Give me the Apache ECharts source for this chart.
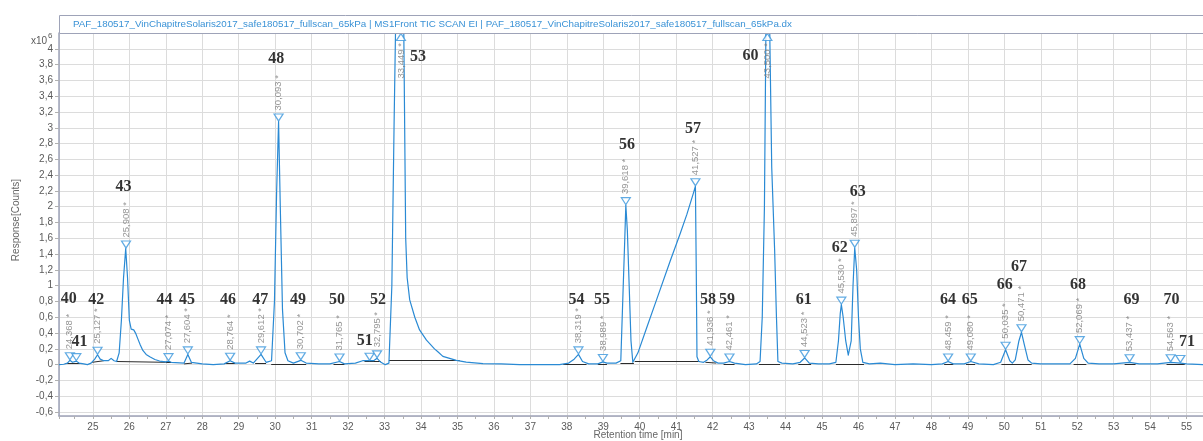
<!DOCTYPE html>
<html><head><meta charset="utf-8">
<script src="https://cdn.jsdelivr.net/npm/echarts@6/dist/echarts.min.js"></script>
<style>html,body{margin:0;padding:0;background:#fff}#c{width:1203px;height:441px}</style>
</head><body><div id="c"></div>
<script>
// ---- Chromatogram trace (retention time in min, response in 10^6 counts) ----
const retentionTimes = [24.07,24.2,24.3,24.368,24.44,24.545,24.62,24.75,24.85,24.95,25.05,25.127,25.2,25.3,25.42,25.5,25.58,25.65,25.72,25.78,25.84,25.9,25.95,26.0,26.05,26.12,26.17,26.23,26.3,26.37,26.46,26.56,26.7,26.83,27.0,27.074,27.15,27.5,27.604,27.7,28.0,28.3,28.6,28.764,28.9,29.2,29.3,29.4,29.612,29.75,29.9,29.98,30.04,30.093,30.14,30.2,30.27,30.35,30.5,30.702,30.85,31.2,31.5,31.765,31.9,32.2,32.4,32.59,32.7,32.795,32.9,33.02,33.12,33.2,33.26,33.32,33.449,33.52,33.56,33.58,33.62,33.69,33.83,33.96,34.15,34.37,34.42,34.47,34.6,34.97,35.24,35.7,36.2,36.7,37.3,37.8,38.05,38.2,38.319,38.43,38.6,38.85,38.989,39.1,39.35,39.48,39.54,39.59,39.618,39.66,39.71,39.76,39.81,39.86,39.95,40.2,40.46,40.84,41.11,41.29,41.47,41.527,41.55,41.57,41.62,41.75,41.85,41.936,42.02,42.15,42.3,42.461,42.6,42.9,43.2,43.3,43.36,43.42,43.46,43.5,43.56,43.62,43.7,43.75,43.79,43.9,44.2,44.4,44.523,44.65,44.9,45.2,45.38,45.45,45.5,45.53,45.58,45.65,45.72,45.76,45.8,45.85,45.897,45.95,46.0,46.05,46.12,46.3,46.6,47.0,47.5,48.0,48.3,48.459,48.6,48.9,49.08,49.3,49.7,49.9,50.035,50.15,50.22,50.3,50.4,50.471,50.55,50.65,50.75,51.0,51.5,51.8,51.95,52.069,52.18,52.3,52.6,53.0,53.437,53.7,54.2,54.563,54.83,55.0,55.45];
const responses = [0,0.005,0.02,0.055,0.03,0.045,0.02,0.01,0.0,0.02,0.07,0.125,0.07,0.05,0.05,0.08,0.05,0.04,0.15,0.55,1.1,1.47,1.1,0.56,0.45,0.44,0.4,0.33,0.25,0.18,0.13,0.1,0.065,0.046,0.035,0.045,0.03,0.02,0.13,0.03,0.01,0.0,0.01,0.05,0.02,0.02,0.045,0.02,0.13,0.03,0.05,0.8,2.2,3.08,2.0,0.7,0.15,0.05,0.02,0.055,0.02,0.01,0.01,0.04,0.01,0.02,0.05,0.05,0.05,0.08,0.03,0.0,0.02,1.0,3.0,4.8,5.6,4.6,2.6,1.6,1.1,0.82,0.6,0.44,0.31,0.2,0.19,0.16,0.105,0.055,0.033,0.013,0.01,0.0,0.0,0.0,0.02,0.07,0.13,0.04,0.01,0.01,0.035,0.02,0.02,0.05,0.9,1.6,2.02,1.7,1.0,0.3,0.03,0.03,0.15,0.48,0.82,1.32,1.66,1.9,2.17,2.26,1.2,0.1,0.04,0.03,0.06,0.1,0.05,0.02,0.02,0.04,0.02,0.0,0.01,0.04,0.6,2.0,4.2,5.5,4.4,2.5,1.45,0.6,0.04,0.02,0.01,0.03,0.085,0.02,0.01,0.01,0.03,0.3,0.65,0.76,0.6,0.3,0.12,0.1,0.3,1.0,1.48,1.2,0.6,0.2,0.03,0.01,0.02,0.0,0.01,0.0,0.01,0.04,0.01,0.01,0.04,0.01,0.0,0.03,0.19,0.05,0.02,0.06,0.3,0.41,0.25,0.06,0.02,0.01,0.01,0.01,0.08,0.26,0.08,0.02,0.01,0.01,0.03,0.01,0.01,0.03,0.02,0.01,0.0];

// ---- Integration baselines [t, v] start and end points ----
const baselineStart = [[24.25,0.02],[24.98,0.03],[25.65,0.04],[27.0,0.03],[27.5,0.01],[28.6,0.02],[29.45,0.02],[29.89,0.01],[30.55,0.01],[31.6,0.01],[32.45,0.04],[33.12,0.055],[37.9,0.01],[38.85,0.01],[39.47,0.02],[39.86,0.04],[41.8,0.03],[42.3,0.01],[43.27,0.0],[44.35,0.01],[45.38,0.0],[48.35,0.0],[48.95,0.0],[49.92,0.0],[51.9,0.0],[53.3,0.0],[54.45,0.0]];
const baselineEnd   = [[24.65,0.02],[25.3,0.05],[27.0,0.03],[27.15,0.03],[27.72,0.02],[28.9,0.02],[29.75,0.02],[30.58,0.01],[30.85,0.01],[31.9,0.01],[32.9,0.04],[35.06,0.055],[38.54,0.01],[39.1,0.01],[39.84,0.02],[41.65,0.04],[42.1,0.02],[42.6,0.01],[43.85,0.0],[44.7,0.01],[46.15,0.0],[48.6,0.0],[49.2,0.0],[50.75,0.0],[52.25,0.0],[53.6,0.0],[54.95,0.0]];

// ---- Peaks ----
const peakIds     = ['40','41','42','43','44','45','46','47','48','49','50','51','52','53','54','55','56','57','58','59','60','61','62','63','64','65','66','67','68','69','70','71'];
const peakTimes   = [24.368,24.545,25.127,25.908,27.074,27.604,28.764,29.612,30.093,30.702,31.765,32.59,32.795,33.449,38.319,38.989,39.618,41.527,41.936,42.461,43.500,44.523,45.530,45.897,48.459,49.080,50.035,50.471,52.069,53.437,54.563,54.83];
const peakHeights = [0.055,0.045,0.125,1.47,0.045,0.13,0.05,0.13,3.08,0.055,0.04,0.05,0.08,null,0.13,0.035,2.02,2.26,0.1,0.04,null,0.085,0.76,1.48,0.04,0.04,0.19,0.41,0.26,0.03,0.03,0.02];
const peakRtText  = ['24,368 *','','25,127 *','25,908 *','27,074 *','27,604 *','28,764 *','29,612 *','30,093 *','30,702 *','31,765 *','','32,795 *','33,449 *','38,319 *','38,989 *','39,618 *','41,527 *','41,936 *','42,461 *','43,500 *','44,523 *','45,530 *','45,897 *','48,459 *','49,080 *','50,035 *','50,471 *','52,069 *','53,437 *','54,563 *',''];
const peakLabelT  = [24.337,24.635,25.093,25.842,26.967,27.579,28.704,29.593,30.032,30.624,31.694,32.454,32.819,33.916,38.262,38.964,39.650,41.461,41.872,42.394,43.036,44.498,45.486,45.979,48.457,49.053,50.012,50.405,52.023,53.488,54.585,55.014];
const peakLabelV  = [0.829,0.283,0.825,2.248,0.825,0.825,0.825,0.825,3.873,0.825,0.825,0.300,0.825,3.893,0.825,0.825,2.785,2.984,0.825,0.825,3.906,0.825,1.481,2.188,0.825,0.825,1.007,1.239,1.007,0.825,0.825,0.287];

// ---- Axes ----
const xMin = 24.07, xMax = 55.45;
const yMin = -0.65, yMax = 4.2;
const xAxisTitle = 'Retention time [min]';
const yAxisTitle = 'Response[Counts]';
const titleText = 'PAF_180517_VinChapitreSolaris2017_safe180517_fullscan_65kPa | MS1Front TIC SCAN EI | PAF_180517_VinChapitreSolaris2017_safe180517_fullscan_65kPa.dx';

const trace = retentionTimes.map((t, i) => [t, responses[i]]);
const baseSegs = baselineStart.map((s, i) => ({ coords: [s, baselineEnd[i]] }));
const inScale = [], offScale = [];
peakIds.forEach((id, i) => {
  if (peakHeights[i] === null) offScale.push({ value: [peakTimes[i], yMax], rt: peakRtText[i] });
  else inScale.push({ value: [peakTimes[i], peakHeights[i]], rt: peakRtText[i] });
});
const numLabels = peakIds.map((id, i) => ({ value: [peakLabelT[i], peakLabelV[i]], name: id }));

const chart = echarts.init(document.getElementById('c'), null, { renderer: 'canvas' });
const fmt = v => {
  const r = Math.round(v * 10) / 10;
  if (Math.abs(v - r) > 1e-6 || Math.round(r * 10) % 2 !== 0 || r > 4.01) return '';
  return String(r).replace('.', ',');
};
chart.setOption({
  animation: false,
  backgroundColor: '#ffffff',
  grid: { left: 59, right: 0, top: 33, bottom: 25, outerBoundsMode: 'none' },
  xAxis: {
    type: 'value', min: xMin, max: xMax, minInterval: 1, maxInterval: 1, splitNumber: 30,
    axisLine: { show: true, onZero: false, lineStyle: { color: '#9ea3b8', width: 1.5 } },
    axisTick: { show: true, length: 3, lineStyle: { color: '#b0b0b0' } },
    minorTick: { show: true, splitNumber: 2, length: 3, lineStyle: { color: '#b0b0b0' } },
    axisLabel: { color: '#5a5a5a', fontSize: 10, fontFamily: 'Liberation Sans', margin: 6, showMinLabel: false, showMaxLabel: false,
      formatter: v => (Math.abs(v - Math.round(v)) < 1e-6 ? String(Math.round(v)) : '') },
    splitLine: { show: true, lineStyle: { color: '#dcdcdc', width: 1 } }
  },
  yAxis: {
    type: 'value', min: yMin, max: yMax, minInterval: 0.2, maxInterval: 0.2, splitNumber: 24,
    axisLine: { show: true, onZero: false, lineStyle: { color: '#9ea3b8', width: 1.5 } },
    axisTick: { show: true, length: 4, lineStyle: { color: '#b0b0b0' } },
    axisLabel: { color: '#5a5a5a', fontSize: 10, fontFamily: 'Liberation Sans', margin: 6, showMinLabel: false, showMaxLabel: false, formatter: fmt },
    splitLine: { show: true, lineStyle: { color: '#dcdcdc', width: 1 } }
  },
  graphic: [
    { type: 'rect', shape: { x: 59.5, y: 15.5, width: 1200, height: 18 }, style: { fill: '#fff', stroke: '#9ea3b8', lineWidth: 1 }, z: 10 },
    { type: 'text', x: 73, y: 24, style: { text: titleText, fill: '#3a92d6', font: '9.8px "Liberation Sans"', verticalAlign: 'middle' }, z: 11 },
    { type: 'text', x: 31, y: 41, style: { text: 'x10', fill: '#5a5a5a', font: '10px "Liberation Sans"', verticalAlign: 'middle' }, z: 11 },
    { type: 'text', x: 48, y: 36, style: { text: '6', fill: '#5a5a5a', font: '8px "Liberation Sans"', verticalAlign: 'middle' }, z: 11 },
    { type: 'text', x: 638, y: 435, style: { text: xAxisTitle, fill: '#666', font: '10px "Liberation Sans"', align: 'center', verticalAlign: 'middle' }, z: 11 },
    { type: 'text', x: 16, y: 220, rotation: Math.PI / 2, style: { text: yAxisTitle, fill: '#666', font: '10px "Liberation Sans"', align: 'center', verticalAlign: 'middle' }, z: 11 }
  ],
  series: [
    { type: 'line', name: 'TIC', data: trace, showSymbol: false, smooth: false, clip: true,
      lineStyle: { color: '#2a8ad4', width: 1.2, join: 'round' }, z: 3, silent: true },
    { type: 'lines', coordinateSystem: 'cartesian2d', data: baseSegs, lineStyle: { color: '#2b2b2b', width: 1, opacity: 1 }, z: 2, silent: true },
    { type: 'scatter', data: inScale, symbol: 'path://M0,0 L10,0 L5,8 Z', symbolSize: [9, 7], symbolOffset: [0, -4], z: 5, silent: true,
      itemStyle: { color: '#ffffff', borderColor: '#3a96dc', borderWidth: 1.2 },
      label: { show: true, position: 'top', distance: 3, rotate: 90, align: 'left', verticalAlign: 'middle',
        color: '#7a7a7a', fontSize: 9.5, fontFamily: 'Liberation Sans', formatter: p => p.data.rt } },
    { type: 'scatter', data: offScale, symbol: 'triangle', symbolSize: [9, 7], symbolOffset: [0, 4], z: 5, silent: true,
      itemStyle: { color: '#ffffff', borderColor: '#3a96dc', borderWidth: 1.2 },
      label: { show: true, position: 'bottom', distance: 2, rotate: 90, align: 'right', verticalAlign: 'middle',
        color: '#7a7a7a', fontSize: 9.5, fontFamily: 'Liberation Sans', formatter: p => p.data.rt } },
    { type: 'scatter', data: numLabels, symbolSize: 1, itemStyle: { color: 'transparent' }, z: 6, silent: true,
      label: { show: true, position: 'inside', formatter: p => p.name, color: '#000', fontSize: 16, fontWeight: 'bold', fontFamily: 'Liberation Serif' } }
  ]
});
</script>
</body></html>
